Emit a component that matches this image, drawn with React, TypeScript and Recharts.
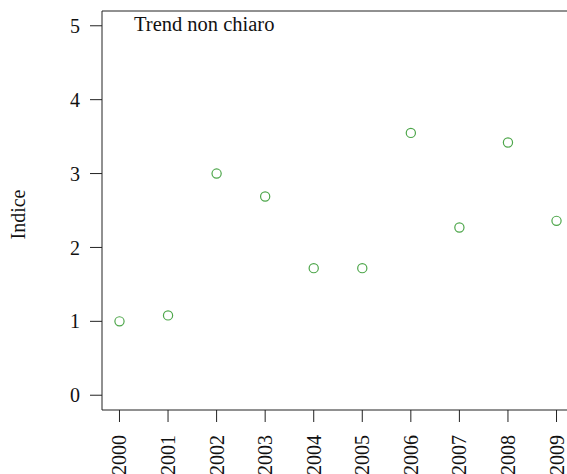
import { ScatterChart, Scatter, XAxis, YAxis, ReferenceLine } from "recharts";

const years = [2000, 2001, 2002, 2003, 2004, 2005, 2006, 2007, 2008, 2009];
const indice = [1.0, 1.08, 3.0, 2.69, 1.72, 1.72, 3.55, 2.27, 3.42, 2.36];
const yTicks = [0, 1, 2, 3, 4, 5];

const data = years.map((anno, i) => ({ anno, valore: indice[i] }));

const FONT = '"Liberation Serif", "Times New Roman", serif';
const INK = "#222";

function YearTick({ x, y, payload }: { x?: number; y?: number; payload?: { value: number } }) {
  return (
    <text
      transform={`translate(${x},${y}) rotate(-90)`}
      textAnchor="end"
      dominantBaseline="central"
      fontFamily={FONT}
      fontSize={20}
      fill="#111"
    >
      {payload?.value}
    </text>
  );
}

function Dot(props: { cx?: number; cy?: number }) {
  return <circle cx={props.cx} cy={props.cy} r={4.6} fill="none" stroke="#4da64a" strokeWidth={1.2} />;
}

export default function App() {
  return (
    <div style={{ position: "absolute", left: 0, top: 0, width: 567, height: 474, overflow: "hidden", background: "#fff" }}>
      <ScatterChart width={600} height={474} margin={{ top: 11, right: 26, left: 0, bottom: 0 }}>
        <XAxis
          type="number"
          dataKey="anno"
          domain={[1999.64, 2009.36]}
          ticks={years}
          allowDataOverflow
          height={64}
          tickSize={12}
          tickMargin={13}
          tickLine={{ stroke: INK }}
          axisLine={{ stroke: INK }}
          tick={<YearTick />}
          interval={0}
        />
        <YAxis
          type="number"
          dataKey="valore"
          domain={[-0.2, 5.2]}
          ticks={yTicks}
          allowDataOverflow
          width={102}
          tickSize={12}
          tickMargin={10}
          tickLine={{ stroke: INK }}
          axisLine={{ stroke: INK }}
          tick={{ fill: "#111", fontSize: 20, fontFamily: FONT }}
          interval={0}
          label={{
            value: "Indice",
            angle: -90,
            position: "insideLeft",
            dx: 13,
            dy: 4,
            style: { fill: "#111", fontSize: 20, fontFamily: FONT, textAnchor: "middle" },
          }}
        />
        <ReferenceLine y={5.2} stroke={INK} />
        <Scatter data={data} shape={<Dot />} isAnimationActive={false} />
        <text x={134} y={31} fontFamily={FONT} fontSize={20.5} fill="#111">
          Trend non chiaro
        </text>
      </ScatterChart>
    </div>
  );
}
